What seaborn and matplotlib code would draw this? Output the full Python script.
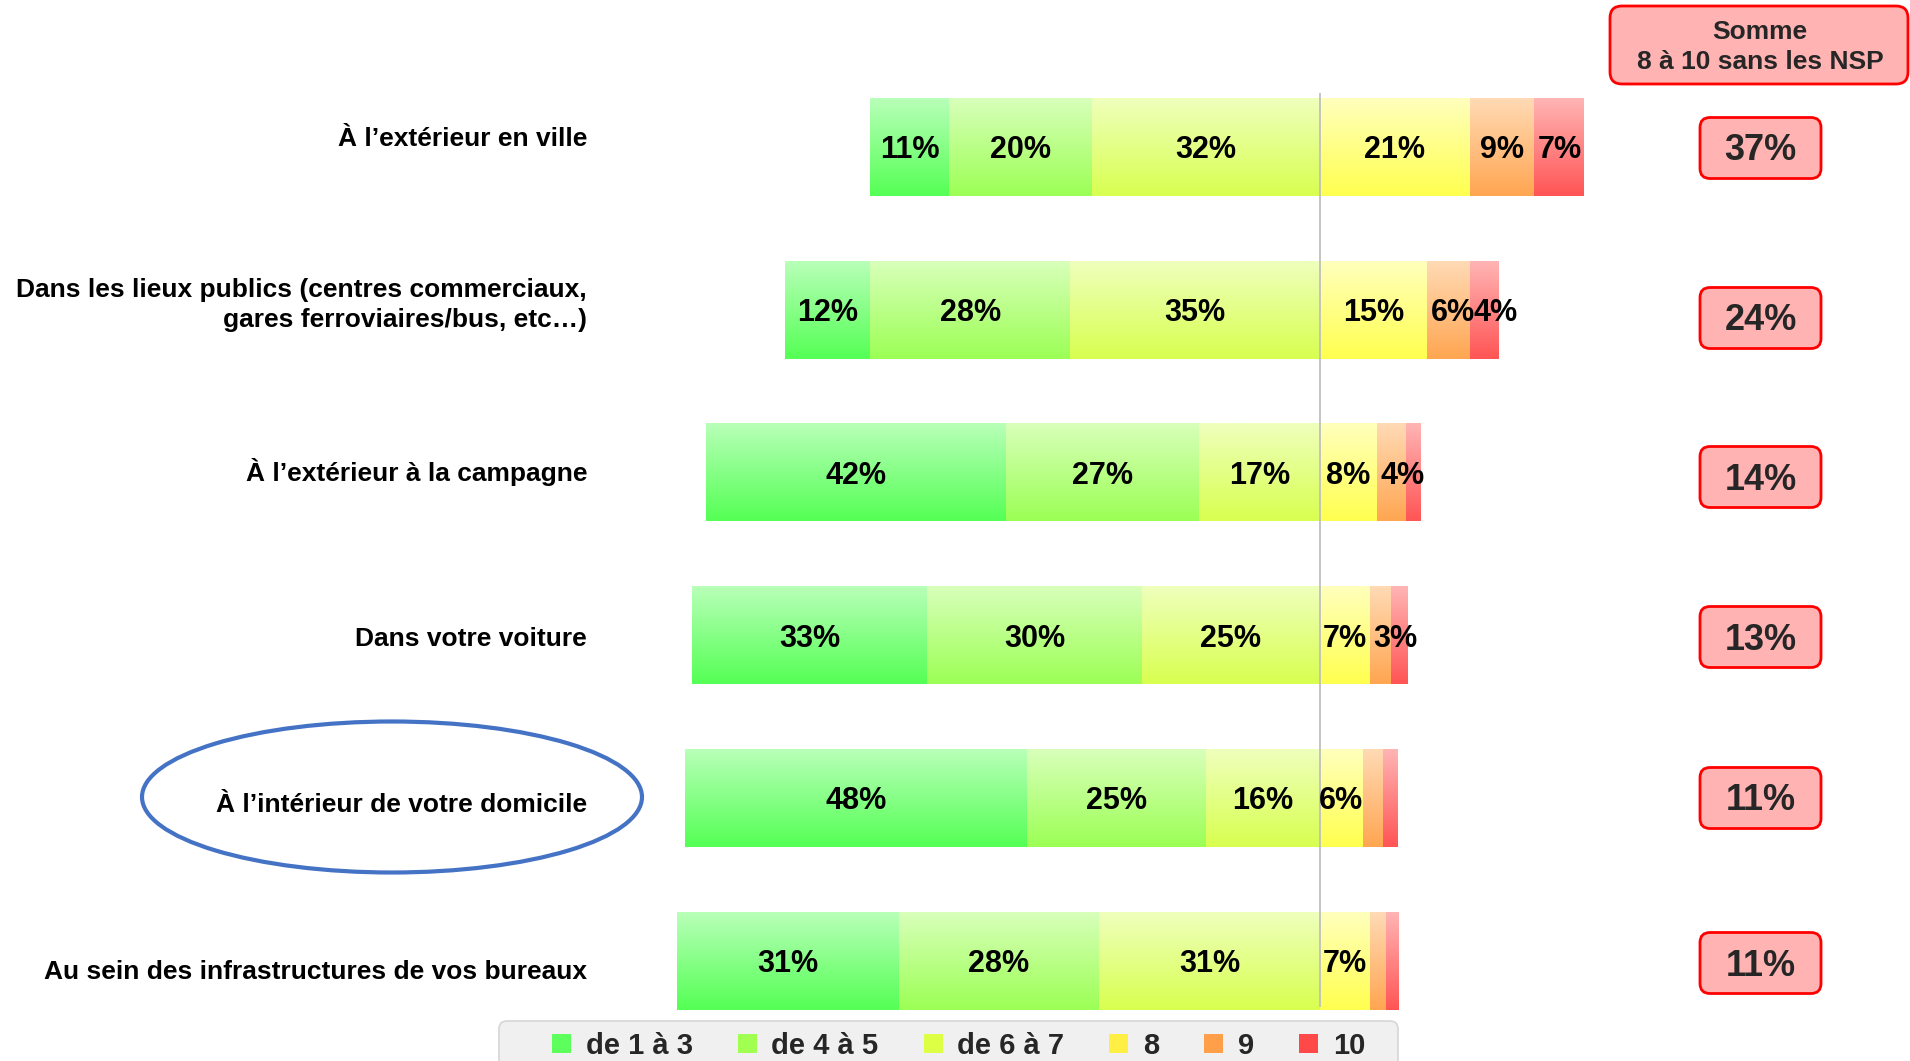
import numpy as np
import pandas as pd
import matplotlib
matplotlib.use("Agg")
import matplotlib.pyplot as plt
import seaborn as sns
from matplotlib.patches import FancyBboxPatch, Ellipse, Patch
from matplotlib.colors import to_rgb

# ---------------- data ----------------
categories = [
    "À l’extérieur en ville",
    "Dans les lieux publics (centres commerciaux,\ngares ferroviaires/bus, etc…)",
    "À l’extérieur à la campagne",
    "Dans votre voiture",
    "À l’intérieur de votre domicile",
    "Au sein des infrastructures de vos bureaux",
]
score_1_3 = [11, 12, 42, 33, 48, 31]
score_4_5 = [20, 28, 27, 30, 25, 28]
score_6_7 = [32, 35, 17, 25, 16, 31]
score_8 = [21, 15, 8, 7, 6, 7]
score_9 = [9, 6, 4, 3, 2.8, 2.2]
score_10 = [7, 4, 2, 2.3, 2.1, 1.8]
sum_8_10 = ["37%", "24%", "14%", "13%", "11%", "11%"]
legend_labels = ["de 1 à 3", "de 4 à 5", "de 6 à 7", "8", "9", "10"]
header_text = "Somme\n8 à 10 sans les NSP"

# ---------------- style ----------------
sns.set_theme(style="white")
plt.rcParams["font.family"] = ["Liberation Sans", "DejaVu Sans"]
plt.rcParams["font.weight"] = "bold"

W, H = 1910, 1061
fig = plt.figure(figsize=(W / 100, H / 100), dpi=100)
fig.patch.set_facecolor("white")

PX_PER_PCT = 7.14
CENTER_PX = 1320
ROW_PITCH = 162.8
ROW0_PX = 147

ax = fig.add_axes([0, 0, 1, 1])
ax.patch.set_visible(False)

solid = ["#5CFF5C", "#A0FF50", "#DDFF44", "#FFEE44", "#FF9F4A", "#FF4848"]
tops = ["#B8FFB8", "#D8FFBA", "#EFFFBC", "#FFFFBC", "#FFDAB4", "#FFB4B4"]
bottoms = ["#55FF55", "#9CFF55", "#D8FF50", "#FFFF50", "#FFA652", "#FF5555"]

s1 = np.array(score_1_3, float)
s2 = np.array(score_4_5, float)
s3 = np.array(score_6_7, float)
s8 = np.array(score_8, float)
s9 = np.array(score_9, float)
s10 = np.array(score_10, float)

segments = [
    (s1, -(s1 + s2 + s3)),
    (s2, -(s2 + s3)),
    (s3, -s3),
    (s8, np.zeros_like(s8)),
    (s9, s8),
    (s10, s8 + s9),
]

for k, (vals, lefts) in enumerate(segments):
    df = pd.DataFrame({"cat": categories, "val": vals})
    n_before = len(ax.patches)
    sns.barplot(data=df, x="val", y="cat", orient="h", ax=ax, color=solid[k],
                width=0.6, errorbar=None, left=lefts, linewidth=0, saturation=1)
    new_patches = ax.patches[n_before:]
    top_c = np.array(to_rgb(tops[k]))
    bot_c = np.array(to_rgb(bottoms[k]))
    g = np.linspace(0, 1, 64)[:, None, None]
    img = (1 - g) * top_c + g * bot_c
    for i, p in enumerate(new_patches):
        x0, y0 = p.get_x(), p.get_y()
        w, h = p.get_width(), p.get_height()
        ax.imshow(img, extent=[x0, x0 + w, y0 + h, y0], origin="upper",
                  aspect="auto", interpolation="bilinear", zorder=2)
        p.set_facecolor("none")
        p.set_edgecolor("none")
        v = vals[i]
        if v >= 3:
            xc = x0 + w / 2
            if k >= 4:
                xc = max(xc, x0 + 3.6)
            ax.text(xc, y0 + h / 2 + 0.02, f"{round(v)}%", ha="center",
                    va="center", fontsize=22, fontweight="bold", color="black",
                    zorder=5)

# central reference line
ax.vlines(0, -0.334, 5.28, color="#BFBFBF", linewidth=1.3, zorder=4)

ax.set_xlim(-CENTER_PX / PX_PER_PCT, (W - CENTER_PX) / PX_PER_PCT)
ax.set_ylim((H - ROW0_PX) / ROW_PITCH, -ROW0_PX / ROW_PITCH)
ax.axis("off")

# ---------------- overlay in pixel coordinates ----------------
ov = fig.add_axes([0, 0, 1, 1])
ov.set_xlim(0, W)
ov.set_ylim(H, 0)
ov.axis("off")
ov.patch.set_visible(False)

# category labels
label_y_px = [139, 305, 472, 639, 805, 972]
for cat, ypx in zip(categories, label_y_px):
    ov.text(587, ypx, cat, ha="right", va="center", fontsize=19,
            fontweight="bold", color="black", linespacing=1.3,
            multialignment="right")

# highlight ellipse
ov.add_patch(Ellipse((392, 797), 500, 151, fill=False, edgecolor="#4472C4",
                     linewidth=3.0))

# header box
ov.add_patch(FancyBboxPatch((1610, 6), 298, 78,
                            boxstyle="round,pad=0,rounding_size=12",
                            facecolor="#FFB3B3", edgecolor="#FF0000",
                            linewidth=2.0))
ov.text(1760, 47, header_text, ha="center", va="center", fontsize=19,
        fontweight="bold", linespacing=1.33)

# sum boxes
box_y_px = [148, 318, 477, 637, 798, 963]
for s, yc in zip(sum_8_10, box_y_px):
    ov.add_patch(FancyBboxPatch((1700, yc - 30.5), 121, 61,
                                boxstyle="round,pad=0,rounding_size=10",
                                facecolor="#FFB3B3", edgecolor="#FF0000",
                                linewidth=2.0))
    ov.text(1760.5, yc + 3, s, ha="center", va="center", fontsize=26,
            fontweight="bold")

# legend frame
ov.add_patch(FancyBboxPatch((499, 1021), 899, 70,
                            boxstyle="round,pad=0,rounding_size=8",
                            facecolor="#F0F0F0", edgecolor="#D6D6D6",
                            linewidth=1.2))
handles = [Patch(facecolor=c, edgecolor="none") for c in solid]
fig.legend(handles, legend_labels, loc="center left",
           bbox_to_anchor=(552 / W, 1 - 1046 / H), ncol=6, frameon=False,
           fontsize=21, handlelength=0.65, handleheight=0.65,
           handletextpad=0.5, columnspacing=1.55, borderpad=0,
           borderaxespad=0)

fig.savefig("out.png", dpi=100, facecolor="white")
